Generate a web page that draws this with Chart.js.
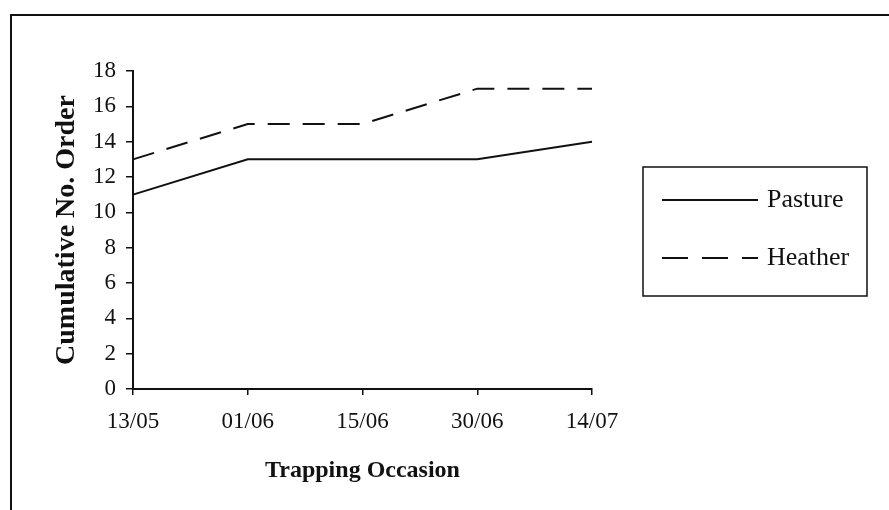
<!DOCTYPE html>
<html>
<head>
<meta charset="utf-8">
<script src="https://cdn.jsdelivr.net/npm/chart.js@4"></script>
<style>
  body { margin: 0; background: #fff; }
</style>
</head>
<body>
<canvas id="orderChart" width="889" height="510"></canvas>
<script>
const dates = ["13/05", "01/06", "15/06", "30/06", "14/07"];
const pasture = [11, 13, 13, 13, 14];
const heather = [13, 15, 15, 17, 17];
const seriesNames = ["Pasture", "Heather"];

const serif = "'Liberation Serif', 'Times New Roman', serif";
const ink = "#111";

// outer frame of the scanned figure (top and left edges only)
const framePlugin = {
    id: "frame",
    beforeDraw(chart) {
        const c = chart.ctx;
        c.save();
        c.fillStyle = "#fff";
        c.fillRect(0, 0, chart.width, chart.height);
        c.strokeStyle = ink;
        c.lineWidth = 2;
        c.beginPath();
        c.moveTo(11, chart.height);
        c.lineTo(11, 15);
        c.lineTo(chart.width, 15);
        c.stroke();
        c.restore();
    }
};

// boxed legend on the right, built from the datasets
const legendBox = {
    id: "legendBox",
    afterDraw(chart) {
        const c = chart.ctx;
        c.save();
        c.strokeStyle = ink;
        c.lineWidth = 1.5;
        c.strokeRect(643, 167, 224, 129);
        chart.data.datasets.forEach((ds, i) => {
            const y = 200 + i * 58;
            c.setLineDash(ds.borderDash && ds.borderDash.length ? [26, 14] : []);
            c.lineWidth = 2;
            c.beginPath();
            c.moveTo(662, y);
            c.lineTo(758, y);
            c.stroke();
            c.setLineDash([]);
            c.fillStyle = ink;
            c.font = "26px " + serif;
            c.textBaseline = "middle";
            c.fillText(ds.label, 767, y);
        });
        c.restore();
    }
};

const ctx = document.getElementById("orderChart").getContext("2d");

new Chart(ctx, {
    type: "line",
    data: {
        labels: dates,
        datasets: [
            { label: seriesNames[0], data: pasture, borderColor: ink, borderWidth: 2, pointRadius: 0, tension: 0, fill: false },
            { label: seriesNames[1], data: heather, borderColor: ink, borderWidth: 2, borderDash: [22, 13], pointRadius: 0, tension: 0, fill: false }
        ]
    },
    options: {
        responsive: false,
        animation: false,
        devicePixelRatio: 1,
        layout: { padding: { left: 0, top: 71, right: 297, bottom: 0 } },
        plugins: {
            legend: { display: false },
            tooltip: { enabled: false }
        },
        scales: {
            x: {
                offset: false,
                grid: { drawOnChartArea: false, drawTicks: true, tickLength: 6, color: ink, lineWidth: 1.5 },
                border: { display: true, color: ink, width: 2 },
                ticks: { color: ink, font: { family: serif, size: 23 }, padding: 13, maxRotation: 0, autoSkip: false },
                title: {
                    display: true, text: "Trapping Occasion", color: ink,
                    font: { family: serif, size: 24, weight: "bold" },
                    padding: { top: 0, bottom: 25 }
                },
                afterFit(scale) { scale.height = 121; }
            },
            y: {
                min: 0,
                max: 18,
                grid: { drawOnChartArea: false, drawTicks: true, tickLength: 7, color: ink, lineWidth: 1.5 },
                border: { display: true, color: ink, width: 2 },
                ticks: { stepSize: 2, color: ink, font: { family: serif, size: 23 }, padding: 10 },
                title: {
                    display: true, text: "Cumulative No. Order", color: ink,
                    font: { family: serif, size: 28, weight: "bold" },
                    padding: { top: 50, bottom: 0 }
                },
                afterFit(scale) { scale.width = 133; }
            }
        }
    },
    plugins: [framePlugin, legendBox]
});
</script>
</body>
</html>
